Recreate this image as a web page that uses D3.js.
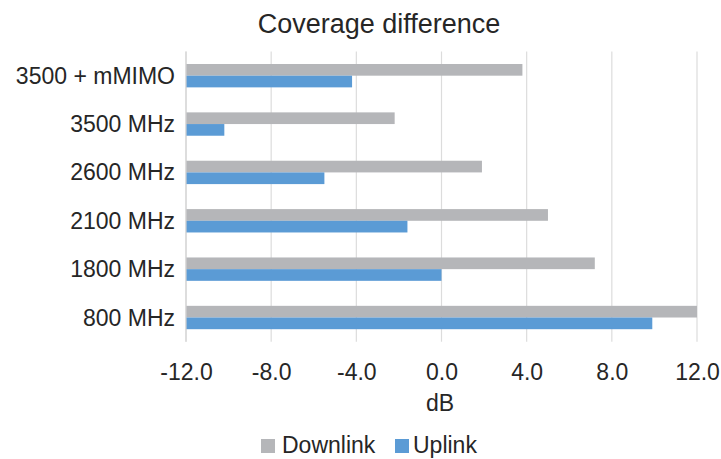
<!DOCTYPE html>
<html>
<head>
<meta charset="utf-8">
<script src="https://cdn.jsdelivr.net/npm/d3@7/dist/d3.min.js"></script>
<style>
  html, body { margin: 0; padding: 0; background: #ffffff; }
  svg { display: block; }
  text { font-family: "Liberation Sans", Arial, Helvetica, sans-serif; fill: #262626; }
</style>
</head>
<body>
<svg id="chart" width="721" height="459"></svg>
<script>
// Data (bottom to top as in the chart)
const categories = ["800 MHz", "1800 MHz", "2100 MHz", "2600 MHz", "3500 MHz", "3500 + mMIMO"];
const seriesNames = ["Downlink", "Uplink"];
const downlink = [12.0, 7.2, 5.0, 1.9, -2.2, 3.8];
const uplink = [9.9, 0.0, -1.6, -5.5, -10.2, -4.2];
const xTicks = [-12, -8, -4, 0, 4, 8, 12];
const title = "Coverage difference";
const xTitle = "dB";

const colors = { Downlink: "#b5b6b9", Uplink: "#5b9bd5" };
const seriesValues = { Downlink: downlink, Uplink: uplink };

const svg = d3.select("#chart");
const plotLeft = 186, plotRight = 697, plotTop = 51.5, plotBottom = 341.7;

const x = d3.scaleLinear().domain([-12, 12]).range([plotLeft, plotRight]);
const y = d3.scaleBand().domain(categories).range([plotBottom, plotTop])
  .paddingInner(0.517).paddingOuter(0.2585);
const ySub = d3.scaleBand().domain(seriesNames).range([0, y.bandwidth()]);

// gridlines
svg.append("g").selectAll("line").data(xTicks).join("line")
  .attr("x1", d => x(d)).attr("x2", d => x(d))
  .attr("y1", plotTop).attr("y2", plotBottom)
  .attr("stroke", "#dcdcdc").attr("stroke-width", 1.2);

// bars
const rows = categories.map((c, i) => ({ c, i }));
seriesNames.forEach(s => {
  svg.append("g").selectAll("rect").data(rows).join("rect")
    .attr("x", x(-12))
    .attr("y", d => y(d.c) + ySub(s))
    .attr("width", d => Math.max(0, x(seriesValues[s][d.i]) - x(-12)))
    .attr("height", ySub.bandwidth())
    .attr("fill", colors[s]);
});

// left axis line
svg.append("line").attr("x1", plotLeft).attr("x2", plotLeft).attr("y1", plotTop).attr("y2", plotBottom)
  .attr("stroke", "#d4d4d4").attr("stroke-width", 1.2);

// x axis tick labels (plain hyphen minus, one decimal)
const xAxis = d3.axisBottom(x).tickValues(xTicks).tickFormat(d => d.toFixed(1)).tickSize(0).tickPadding(0);
const gx = svg.append("g").attr("transform", `translate(0,${plotBottom})`).call(xAxis);
gx.select(".domain").remove();
gx.selectAll("text").attr("y", 38).attr("dy", null)
  .style("font-size", "23px").style("font-family", "'Liberation Sans', Arial, sans-serif").attr("fill", "#262626");

// y axis labels
const yAxis = d3.axisLeft(y).tickSize(0).tickPadding(11);
const gy = svg.append("g").attr("transform", `translate(${plotLeft},0)`).call(yAxis);
gy.select(".domain").remove();
gy.selectAll("text").attr("dy", "0.35em")
  .style("font-size", "23px").style("font-family", "'Liberation Sans', Arial, sans-serif").attr("fill", "#262626");

// title
svg.append("text").attr("x", 379).attr("y", 33).attr("text-anchor", "middle")
  .style("font-size", "27px").text(title);

// x axis title
svg.append("text").attr("x", 440).attr("y", 411).attr("text-anchor", "middle")
  .style("font-size", "23px").text(xTitle);

// legend
const legendItems = [
  { name: "Downlink", sx: 261, tx: 282 },
  { name: "Uplink", sx: 395, tx: 413 }
];
const lg = svg.append("g");
legendItems.forEach(it => {
  lg.append("rect").attr("x", it.sx).attr("y", 439).attr("width", 14).attr("height", 14)
    .attr("fill", colors[it.name]);
  lg.append("text").attr("x", it.tx).attr("y", 453).style("font-size", "23px").text(it.name);
});
</script>
</body>
</html>
